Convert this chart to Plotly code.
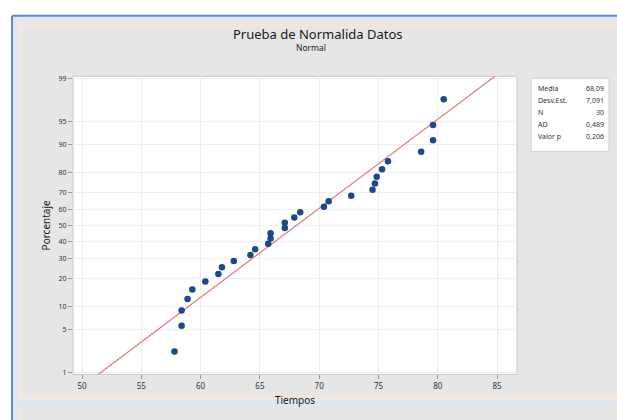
import plotly.graph_objects as go
from statistics import NormalDist

W, H = 617, 420

# Data
tiempos = [57.8, 58.4, 58.4, 58.9, 59.3, 60.4, 61.5, 61.8, 62.8, 64.2,
           64.6, 65.7, 65.9, 65.9, 67.1, 67.1, 67.9, 68.4, 70.4, 70.8,
           72.7, 74.5, 74.7, 74.85, 75.3, 75.8, 78.6, 79.6, 79.6, 80.5]
porcentaje = [2.30, 5.59, 8.88, 12.17, 15.46, 18.75, 22.04, 25.33, 28.62, 31.91,
              35.20, 38.49, 41.78, 45.07, 48.36, 51.64, 54.93, 58.22, 61.51, 64.80,
              68.09, 71.38, 74.67, 77.96, 81.25, 84.54, 87.83, 91.12, 94.41, 97.70]
y_ticks = [1, 5, 10, 20, 30, 40, 50, 60, 70, 80, 90, 95, 99]
x_ticks = [50, 55, 60, 65, 70, 75, 80, 85]
media, desv_est, n_obs, ad, valor_p = 68.09, 7.091, 30, 0.489, 0.206
stat_labels = ["Media", "Desv.Est.", "N", "AD", "Valor p"]
stat_values = ["68,09", "7,091", "30", "0,489", "0,206"]

nd = NormalDist()
def z(p):
    return nd.inv_cdf(p / 100.0)

z_lim = 2.36
x_range = [49.24, 86.68]

fig = go.Figure()

# fitted line
zl = [-z_lim, z_lim]
fig.add_trace(go.Scatter(x=[media + desv_est * v for v in zl], y=zl, mode="lines",
                         line=dict(color="#E07A7A", width=1.2), hoverinfo="skip",
                         showlegend=False))
fig.add_trace(go.Scatter(x=tiempos, y=[z(p) for p in porcentaje], mode="markers",
                         marker=dict(color="#1B4A88", size=6.5), showlegend=False))

def px(x):
    return x / W
def py(y):
    return 1 - y / H

shapes = []
# outer frame
shapes.append(dict(type="rect", xref="paper", yref="paper", x0=px(12), x1=px(W + 2),
                   y0=py(H + 2), y1=py(14), fillcolor="#E6E6E6", line=dict(width=0), layer="below"))
# light bands
shapes.append(dict(type="rect", xref="paper", yref="paper", x0=px(13), x1=px(W + 2),
                   y0=py(19), y1=py(15), fillcolor="#DCE7F3", line=dict(width=0), layer="below"))
shapes.append(dict(type="rect", xref="paper", yref="paper", x0=px(18), x1=px(W + 2),
                   y0=py(26), y1=py(19), fillcolor="#EFE6DF", line=dict(width=0), layer="below"))
shapes.append(dict(type="rect", xref="paper", yref="paper", x0=px(13), x1=px(18),
                   y0=py(H + 2), y1=py(15), fillcolor="#DCE7F3", line=dict(width=0), layer="below"))
shapes.append(dict(type="rect", xref="paper", yref="paper", x0=px(18), x1=px(23),
                   y0=py(H + 2), y1=py(19), fillcolor="#EFE6DF", line=dict(width=0), layer="below"))
shapes.append(dict(type="rect", xref="paper", yref="paper", x0=px(18), x1=px(W + 2),
                   y0=py(402), y1=py(397), fillcolor="#EFE6DF", line=dict(width=0), layer="below"))
shapes.append(dict(type="rect", xref="paper", yref="paper", x0=px(18), x1=px(W + 2),
                   y0=py(412), y1=py(402), fillcolor="#DFE7EF", line=dict(width=0), layer="below"))
# blue window lines
shapes.append(dict(type="line", xref="paper", yref="paper", x0=px(12), x1=px(W + 2),
                   y0=py(14), y1=py(14), line=dict(color="#5B8CC8", width=2)))
shapes.append(dict(type="line", xref="paper", yref="paper", x0=px(12), x1=px(12),
                   y0=py(14), y1=py(H + 2), line=dict(color="#5B8CC8", width=2)))
# plot area background
shapes.append(dict(type="rect", xref="paper", yref="paper", x0=px(73), x1=px(517),
                   y0=py(376), y1=py(75), fillcolor="white", line=dict(color="#C8C8C8", width=1),
                   layer="below"))
# stats box
shapes.append(dict(type="rect", xref="paper", yref="paper", x0=px(531), x1=px(609),
                   y0=py(151), y1=py(77), fillcolor="white", line=dict(color="#D0D0D0", width=1),
                   layer="below"))

font = "Noto Sans, Open Sans, sans-serif"
annotations = [
    dict(text="Prueba de Normalida Datos", x=px(318), y=py(32), xref="paper", yref="paper",
         showarrow=False, font=dict(size=13, color="#1a1a1a", family=font), xanchor="center", yanchor="middle"),
    dict(text="Normal", x=px(311), y=py(46), xref="paper", yref="paper",
         showarrow=False, font=dict(size=8.5, color="#1a1a1a", family=font), xanchor="center", yanchor="middle"),
]
for i, (lab, val) in enumerate(zip(stat_labels, stat_values)):
    yy = py(87 + i * 12.3)
    annotations.append(dict(text=lab, x=px(536), y=yy, xref="paper", yref="paper", showarrow=False,
                            font=dict(size=7, color="#333", family=font), xanchor="left", yanchor="middle"))
    annotations.append(dict(text=val, x=px(606), y=yy, xref="paper", yref="paper", showarrow=False,
                            font=dict(size=7, color="#333", family=font), xanchor="right", yanchor="middle"))

fig.update_layout(
    width=W, height=H, margin=dict(l=0, r=0, t=0, b=0),
    paper_bgcolor="white", plot_bgcolor="rgba(0,0,0,0)",
    shapes=shapes, annotations=annotations,
    font=dict(family=font, color="#333"),
    xaxis=dict(domain=[px(73), px(517)], range=x_range, tickvals=x_ticks,
               ticktext=[str(v) for v in x_ticks], showgrid=True, gridcolor="#EDEDED", gridwidth=1,
               zeroline=False, ticks="outside", ticklen=4, tickcolor="#999",
               tickfont=dict(size=8, color="#333"),
               title=dict(text="Tiempos", font=dict(size=10, color="#1a1a1a"), standoff=6),
               showline=False),
    yaxis=dict(domain=[py(376), py(75)], range=[-z_lim, z_lim], tickvals=[z(p) for p in y_ticks],
               ticktext=[str(v) for v in y_ticks], showgrid=True, gridcolor="#EDEDED", gridwidth=1,
               zeroline=False, ticks="outside", ticklen=4, tickcolor="#999",
               tickfont=dict(size=7, color="#333"),
               title=dict(text="Porcentaje", font=dict(size=10, color="#1a1a1a"), standoff=6),
               showline=False),
)

fig.write_html("out.html", config={"displayModeBar": False},
               post_script="document.body.style.margin='0';document.body.style.overflow='hidden';")
